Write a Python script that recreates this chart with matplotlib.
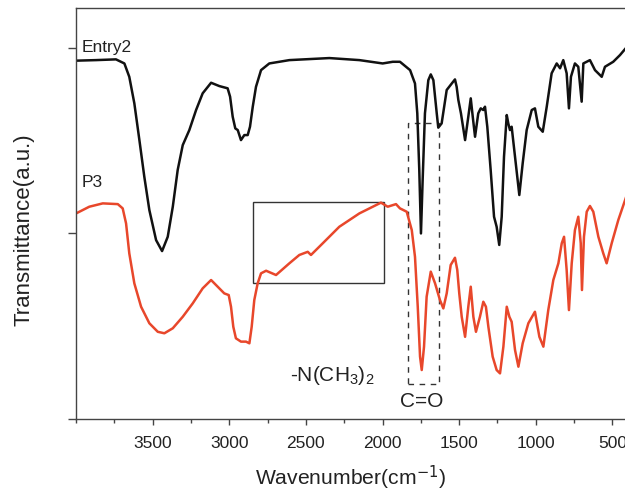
import matplotlib
matplotlib.use("Agg")
import matplotlib.pyplot as plt
from matplotlib.patches import Rectangle
from matplotlib.ticker import MultipleLocator

plt.rcParams['font.family'] = ['Liberation Sans', 'DejaVu Sans']
plt.rcParams['mathtext.fontset'] = 'custom'
plt.rcParams['mathtext.rm'] = 'Liberation Sans'
plt.rcParams['mathtext.it'] = 'Liberation Sans'
plt.rcParams['mathtext.default'] = 'regular'

# Entry2 spectrum (black)
entry2_wn = [4000, 3870, 3740, 3685, 3653, 3620, 3587, 3555, 3522, 3478, 3439, 3402, 3369, 3337,
             3304, 3261, 3217, 3174, 3119, 3065, 3011, 2995, 2978, 2961, 2945, 2924, 2902, 2880,
             2865, 2847, 2826, 2793, 2739, 2608, 2347, 2151, 1999, 1933, 1886, 1820, 1788, 1773,
             1760, 1749, 1738, 1723, 1701, 1685, 1668, 1646, 1636, 1614, 1581, 1548, 1527, 1516,
             1505, 1488, 1461, 1440, 1424, 1411, 1396, 1375, 1359, 1342, 1331, 1316, 1294, 1272,
             1255, 1238, 1222, 1207, 1189, 1179, 1168, 1157, 1135, 1107, 1085, 1059, 1026, 1005,
             983, 954, 928, 896, 863, 841, 820, 798, 783, 770, 744, 722, 700, 689, 646, 613, 569,
             548, 494, 450, 400]
entry2_t = [1.931, 1.934, 1.938, 1.916, 1.844, 1.701, 1.503, 1.306, 1.126, 0.964, 0.905, 0.982, 1.144, 1.342,
            1.476, 1.557, 1.665, 1.755, 1.812, 1.794, 1.782, 1.737, 1.629, 1.566, 1.557, 1.503, 1.530, 1.530,
            1.575, 1.683, 1.790, 1.880, 1.916, 1.934, 1.945, 1.934, 1.916, 1.925, 1.925, 1.880, 1.808, 1.647,
            1.342, 1.000, 1.288, 1.647, 1.826, 1.857, 1.826, 1.647, 1.570, 1.593, 1.773, 1.808, 1.830, 1.790,
            1.719, 1.647, 1.503, 1.629, 1.728, 1.629, 1.521, 1.647, 1.674, 1.665, 1.683, 1.575, 1.342, 1.090,
            1.036, 0.938, 1.090, 1.413, 1.638, 1.593, 1.557, 1.575, 1.413, 1.207, 1.378, 1.557, 1.665, 1.674,
            1.575, 1.548, 1.683, 1.863, 1.916, 1.890, 1.934, 1.863, 1.674, 1.844, 1.916, 1.898, 1.710, 1.916,
            1.934, 1.880, 1.844, 1.898, 1.925, 1.961, 2.010]

# P3 spectrum (red)
p3_wn = [4000, 3914, 3826, 3728, 3696, 3674, 3653, 3620, 3576, 3522, 3467, 3424, 3369, 3304, 3239,
         3174, 3119, 3076, 3033, 3004, 2989, 2974, 2957, 2924, 2891, 2869, 2854, 2837, 2815, 2793,
         2760, 2695, 2608, 2543, 2488, 2467, 2390, 2282, 2151, 2010, 1966, 1912, 1886, 1842, 1809,
         1788, 1770, 1755, 1744, 1729, 1712, 1685, 1657, 1625, 1603, 1581, 1555, 1527, 1512, 1499,
         1483, 1461, 1440, 1424, 1407, 1390, 1364, 1342, 1325, 1309, 1281, 1255, 1233, 1211, 1189,
         1172, 1157, 1135, 1113, 1085, 1048, 1005, 976, 950, 918, 885, 852, 830, 815, 798, 783, 765,
         744, 722, 706, 698, 685, 667, 646, 624, 591, 559, 537, 504, 461, 400]
p3_t = [1.108, 1.144, 1.162, 1.158, 1.135, 1.054, 0.893, 0.731, 0.605, 0.516, 0.470, 0.462, 0.489, 0.551, 0.623,
        0.704, 0.749, 0.713, 0.677, 0.668, 0.605, 0.497, 0.435, 0.417, 0.417, 0.408, 0.497, 0.641, 0.731, 0.785,
        0.799, 0.776, 0.839, 0.884, 0.901, 0.884, 0.947, 1.036, 1.108, 1.166, 1.144, 1.158, 1.135, 1.117, 1.018,
        0.874, 0.605, 0.336, 0.264, 0.390, 0.659, 0.794, 0.731, 0.641, 0.596, 0.677, 0.830, 0.869, 0.803, 0.677,
        0.551, 0.443, 0.605, 0.713, 0.551, 0.470, 0.551, 0.632, 0.605, 0.497, 0.336, 0.264, 0.246, 0.390, 0.605,
        0.551, 0.524, 0.372, 0.282, 0.408, 0.516, 0.578, 0.443, 0.390, 0.587, 0.749, 0.839, 0.947, 0.982, 0.803,
        0.587, 0.839, 1.018, 1.090, 0.947, 0.695, 0.982, 1.117, 1.148, 1.117, 0.982, 0.893, 0.839, 0.947, 1.072,
        1.220]

x_ticks = [3500, 3000, 2500, 2000, 1500, 1000, 500]
y_ticks = [0, 1, 2]

fig = plt.figure(figsize=(6.25, 4.96), dpi=100)
ax = fig.add_axes([0.1218, 0.1552, 0.8824, 0.828])

ax.plot(entry2_wn, entry2_t, color='#111111', lw=1.8)
ax.plot(p3_wn, p3_t, color='#e8472b', lw=1.8)

ax.set_xlim(4000, 400)
ax.set_ylim(0, 2.213)
ax.set_xticks(x_ticks)
ax.xaxis.set_minor_locator(MultipleLocator(250))
ax.set_yticks(y_ticks)
ax.set_yticklabels([])

for s in ax.spines.values():
    s.set_color('#444444')
    s.set_linewidth(1.0)

ax.tick_params(axis='x', which='major', direction='out', length=4, width=1, color='#444444',
               labelsize=12.5, pad=8, labelcolor='#222222')
ax.tick_params(axis='x', which='minor', direction='out', length=3, width=1, color='#444444')
ax.tick_params(axis='y', which='major', direction='out', length=6, width=1, color='#444444')

ax.set_xlabel('Wavenumber(cm$^{\\mathsf{-1}}$)', fontsize=15.2, color='#222222', va='center')
ax.xaxis.set_label_coords(0.4970, -0.1442)
ax.set_ylabel('Transmittance(a.u.)', fontsize=16, color='#222222', va='center')
ax.yaxis.set_label_coords(-0.094, 0.46)

ax.text(3965, 2.0, 'Entry2', fontsize=12.5, ha='left', va='center', color='#222222')
ax.text(3965, 1.274, 'P3', fontsize=12.5, ha='left', va='center', color='#222222')
ax.text(2607, 0.232, '-N(CH$_3$)$_2$', fontsize=15, ha='left', va='center', color='#222222')
ax.text(1742, 0.092, 'C=O', fontsize=15, ha='center', va='center', color='#222222')

ax.add_patch(Rectangle((2843, 0.734), 1990 - 2843, 1.171 - 0.734, fill=False,
                       edgecolor='#333333', lw=1.0))
ax.add_patch(Rectangle((1836, 0.189), 1633 - 1836, 1.595 - 0.189, fill=False,
                       edgecolor='#333333', lw=1.0, linestyle=(0, (4, 4))))

fig.savefig('out.png', dpi=100)
